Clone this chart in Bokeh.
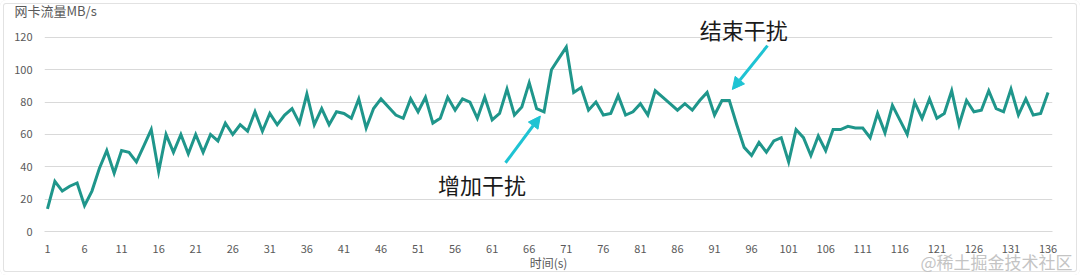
from bokeh.plotting import figure
from bokeh.models import (ColumnDataSource, FixedTicker, Range1d, Label, Arrow,
                          NormalHead, Title)
from bokeh.embed import file_html
from bokeh.resources import INLINE

# NIC traffic (MB/s), sampled once per second
seconds = list(range(1, 137))
traffic = [
    14, 31, 25, 28, 30, 16, 25, 39, 50, 36,
    50, 49, 43, 53, 63, 37, 60, 49, 60, 48,
    60, 49, 60, 56, 67, 60, 66, 62, 74, 62,
    73, 66, 72, 76, 67, 85, 66, 76, 66, 74,
    73, 70, 82, 64, 76, 82, 77, 72, 70, 82,
    74, 83, 67, 70, 83, 75, 82, 80, 70, 83,
    69, 73, 88, 72, 77, 92, 76, 74, 100, 107,
    114, 86, 89, 75, 80, 72, 73, 84, 72, 74,
    79, 72, 87, 83, 79, 75, 79, 75, 81, 86,
    72, 81, 81, 66, 52, 47, 55, 49, 56, 58,
    43, 63, 58, 47, 59, 50, 63, 63, 65, 64,
    64, 58, 73, 61, 78, 69, 60, 80, 70, 82,
    70, 73, 87, 66, 81, 74, 75, 87, 76, 74,
    88, 72, 82, 72, 73, 86,
]
y_ticks = [0, 20, 40, 60, 80, 100, 120]
x_ticks = list(range(1, 137, 5))

FONT = "Noto Sans CJK SC"
GREY_TXT = "#595959"
GRID = "#d9d9d9"
LINE = "#1f968b"
ARROW = "#1ec3d3"

src = ColumnDataSource(dict(t=seconds, v=traffic))

p = figure(width=1080, height=275, output_backend="svg", toolbar_location=None,
           x_range=Range1d(0.6, 136.6), y_range=Range1d(0, 132.3),
           min_border_left=44, min_border_right=28, min_border_bottom=44,
           min_border_top=0)
p.title = Title(text="网卡流量MB/s", text_font=FONT, text_font_size="13px",
                text_color=GREY_TXT, text_font_style="normal", align="left",
                offset=-30, standoff=-4)
p.outline_line_color = None
p.background_fill_color = "white"
p.border_fill_color = None
p.styles = {"background-color": "white",
            "box-shadow": "inset 0 0 0 3px white, inset 0 0 0 4px #e2e2e2",
            "border-radius": "6px"}

p.line("t", "v", source=src, line_color=LINE, line_width=3, line_join="miter")

# axes
p.yaxis.ticker = FixedTicker(ticks=y_ticks)
p.xaxis.ticker = FixedTicker(ticks=x_ticks)
for ax in (p.xaxis, p.yaxis):
    ax.major_tick_line_color = None
    ax.minor_tick_line_color = None
    ax.major_label_text_font = FONT
    ax.major_label_text_font_size = "11px"
    ax.major_label_text_color = GREY_TXT
p.yaxis.axis_line_color = None
p.yaxis.major_label_standoff = 6
p.xaxis.axis_line_color = GRID
p.xaxis.major_label_standoff = 7
p.xaxis.axis_label = "时间(s)"
p.xaxis.axis_label_text_font = FONT
p.xaxis.axis_label_text_font_size = "12px"
p.xaxis.axis_label_text_font_style = "normal"
p.xaxis.axis_label_text_color = GREY_TXT
p.xaxis.axis_label_standoff = -2

p.xgrid.grid_line_color = None
p.ygrid.grid_line_color = GRID
p.ygrid.grid_line_width = 1

# event annotations
p.add_layout(Label(x=53.7, y=29.5, text="增加干扰", text_font=FONT,
                   text_font_size="22px", text_color="#1a1a1a",
                   text_baseline="middle"))
p.add_layout(Arrow(x_start=62.8, y_start=42.5, x_end=67.5, y_end=71.4,
                   line_color=ARROW, line_width=3,
                   end=NormalHead(size=12, fill_color=ARROW, line_color=ARROW)))
p.add_layout(Label(x=89.0, y=124.9, text="结束干扰", text_font=FONT,
                   text_font_size="22px", text_color="#1a1a1a",
                   text_baseline="middle"))
p.add_layout(Arrow(x_start=98.15, y_start=114.9, x_end=93.4, y_end=87.8,
                   line_color=ARROW, line_width=3,
                   end=NormalHead(size=12, fill_color=ARROW, line_color=ARROW)))

# source watermark, bottom right
p.add_layout(Title(text="@稀土掘金技术社区", text_font=FONT,
                   text_font_size="17px", text_color="#c4c4c4",
                   text_font_style="normal", align="right", offset=-20,
                   vertical_align="top", standoff=-50), "below")

open("out.html", "w").write(file_html(p, INLINE))
